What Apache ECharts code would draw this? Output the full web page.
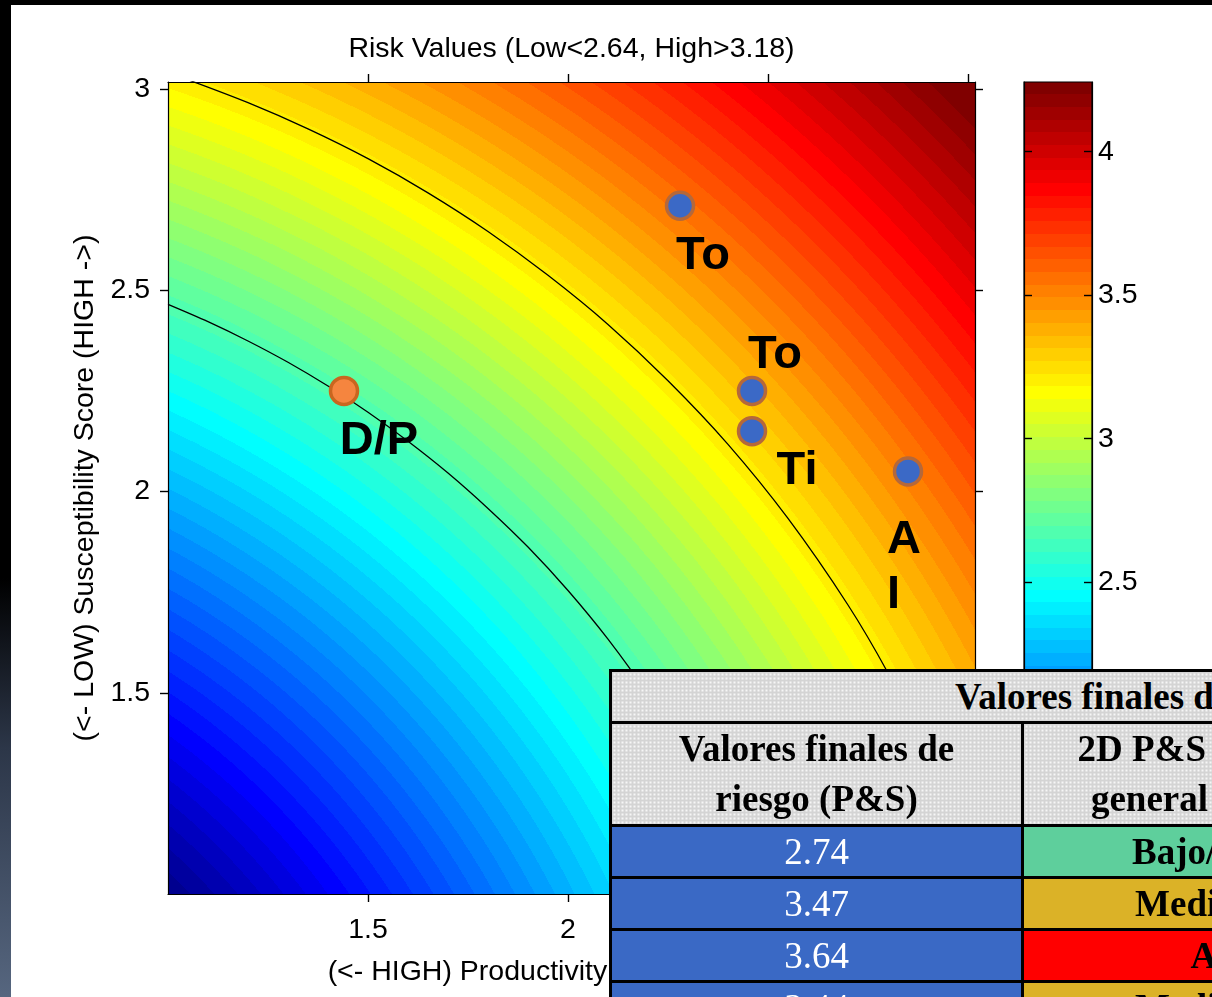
<!DOCTYPE html>
<html><head><meta charset="utf-8">
<script src="https://cdn.jsdelivr.net/npm/echarts@6/dist/echarts.min.js"></script>
<style>
html,body{margin:0;padding:0;width:1212px;height:997px;overflow:hidden;background:#fff;}
#chart{position:absolute;left:0;top:0;width:1212px;height:997px;}
#topbar{position:absolute;left:0;top:0;width:1212px;height:5px;background:#000;z-index:30}
#leftbar{position:absolute;left:0;top:0;width:11px;height:997px;background:linear-gradient(to bottom,#000 0%,#000 58%,#2c3648 75%,#56667f 100%);z-index:30}
#tbl{position:absolute;left:609px;top:669px;z-index:20;border-collapse:collapse;table-layout:fixed;width:1068px;font-family:"Liberation Serif","Times New Roman",serif;font-size:37px;}
#tbl td{border:3px solid #000;text-align:center;padding:0;overflow:hidden;white-space:nowrap;}
.hdr{background-color:#d4d4d4;background-image:radial-gradient(circle,#f6f6f6 0.9px,transparent 1.3px);background-size:4px 4px;font-weight:bold;color:#000;}
.val{background:#3a69c5;color:#fff;}
.lvl{font-weight:bold;color:#000;}
</style></head>
<body>
<div id="chart"></div>
<table id="tbl"></table>
<div id="topbar"></div>
<div id="leftbar"></div>
<script>
// ---------------- data ----------------
const xTickValues = [1.5, 2, 2.5, 3];
const yTickValues = [1.5, 2, 2.5, 3];
const colorbarTickValues = [2.5, 3, 3.5, 4];
const prodRange = [1, 3.0175];
const suscRange = [1, 3.0174];
const riskRange = [1.4142, 4.2426];
const titleText = 'Risk Values (Low<2.64, High>3.18)';
const xName = '(<- HIGH) Productivity Score (LOW ->)';
const yName = '(<- LOW) Susceptibility Score (HIGH ->)';

// contour "Low<2.64"
const lowContourP = [1.00, 1.10, 1.20, 1.30, 1.40, 1.50, 1.60, 1.70, 1.80, 1.90, 2.00, 2.10, 2.20, 2.30, 2.40, 2.47];
const lowContourS = [2.465, 2.422, 2.374, 2.321, 2.262, 2.197, 2.125, 2.046, 1.958, 1.862, 1.754, 1.633, 1.495, 1.336, 1.147, 0.99];
// contour "High>3.18"
const highContourP = [1.05, 1.20, 1.35, 1.50, 1.65, 1.80, 1.95, 2.10, 2.25, 2.40, 2.55, 2.70, 2.80, 2.90, 3.00, 3.03];
const highContourS = [3.023, 2.966, 2.901, 2.827, 2.742, 2.646, 2.537, 2.415, 2.275, 2.117, 1.933, 1.718, 1.549, 1.353, 1.114, 1.029];

// species points
const speciesLabels = ['To', 'To', 'Ti', 'A\nI', 'D/P'];
const productivity = [2.28, 2.46, 2.46, 2.85, 1.44];
const susceptibility = [2.71, 2.25, 2.15, 2.05, 2.25];

// table
const tableTitle = 'Valores finales de riesgo';
const tableHead1 = ['Valores finales de', 'riesgo (P&S)'];
const tableHead2 = ['2D P&S Categoría', 'general de riesgo'];
const tableValues = ['2.74', '3.47', '3.64', '3.44'];
const tableLevels = ['Bajo/Medio', 'Medio/Alto', 'Alto', 'Medio/Alto'];

// ---------------- styles ----------------
const markerFill = ['#3b69c6', '#3b69c6', '#3b69c6', '#3b69c6', '#f5853f'];
const markerBorder = ['#b5683a', '#b5683a', '#b5683a', '#b5683a', '#c9661f'];
const labelStyle = [
  {offset: [23, 50]},
  {offset: [23, -36]},
  {offset: [45, 40]},
  {offset: [-21, 96], align: 'left', lineHeight: 55},
  {offset: [35, 50]}
];
const levelColors = {'Bajo/Medio': '#5ecf9c', 'Medio/Alto': '#dbb227', 'Alto': '#ff0000'};

function fontAvailable(name) {
  const ctx = document.createElement('canvas').getContext('2d');
  const s = 'Risk Values (Low<2.64, High>3.18) 0123456789';
  ctx.font = '40px monospace'; const a = ctx.measureText(s).width;
  ctx.font = '40px "' + name + '", monospace'; const b = ctx.measureText(s).width;
  return Math.abs(a - b) > 0.5;
}
const narrow = fontAvailable('Liberation Sans Narrow');
const axisFont = narrow ? '"Liberation Sans Narrow"' : '"Liberation Sans", Arial, sans-serif';
const axisFontSize = narrow ? 34 : 28.5;

// MATLAB jet(64) colormap
function jet(k) { // k = 1..64
  const c = v => Math.round(255 * Math.max(0, Math.min(1, v)));
  const r = c(Math.min((k - 24) / 16, (72 - k) / 16));
  const g = c(Math.min((k - 8) / 16, (56 - k) / 16));
  const b = c(Math.min((k + 8) / 16, (40 - k) / 16));
  return 'rgb(' + r + ',' + g + ',' + b + ')';
}
const NB = 64;
const bandColors = [];
for (let k = 1; k <= NB; k++) bandColors.push(jet(k));

// colorbar gradient (top = max)
const cbStops = [];
for (let i = NB - 1; i >= 0; i--) {
  cbStops.push({offset: (NB - 1 - i) / NB, color: bandColors[i]});
  cbStops.push({offset: (NB - i) / NB, color: bandColors[i]});
}

// ---------------- table ----------------
(function buildTable() {
  const t = document.getElementById('tbl');
  const esc = s => s.replace(/&/g, '&amp;');
  let h = '<colgroup><col style="width:412px"><col style="width:404px"><col style="width:252px"></colgroup>';
  h += '<tr style="height:52px"><td colspan="3" class="hdr">' + tableTitle + '</td></tr>';
  h += '<tr style="height:103px"><td class="hdr" style="line-height:50px">' + tableHead1.map(esc).join('<br>') +
       '</td><td class="hdr" style="line-height:50px">' + tableHead2.map(esc).join('<br>') + '</td><td class="hdr"></td></tr>';
  for (let i = 0; i < tableValues.length; i++) {
    h += '<tr style="height:52px"><td class="val">' + tableValues[i] + '</td><td class="lvl" style="background:' +
         levelColors[tableLevels[i]] + '">' + tableLevels[i] + '</td><td style="background:#fff"></td></tr>';
  }
  t.innerHTML = h;
})();

// ---------------- chart ----------------
const chart = echarts.init(document.getElementById('chart'), null, {renderer: 'canvas'});
const txt = {color: '#000', fontFamily: axisFont, fontSize: axisFontSize};
const lineBlack = {show: true, onZero: false, lineStyle: {color: '#000', width: 1.2}};
function tick(vals, inside) { return {show: true, inside: inside, length: 8, lineStyle: {color: '#000', width: 1.4}, customValues: vals}; }

const pts = productivity.map((p, i) => ({
  value: [p, susceptibility[i]],
  name: speciesLabels[i],
  itemStyle: {color: markerFill[i], borderColor: markerBorder[i], borderWidth: 3.5, opacity: 1},
  label: Object.assign({}, labelStyle[i])
}));

const option = {
  animation: false,
  grid: [
    {left: 168, top: 82, width: 807, height: 812, show: true, borderWidth: 0, backgroundColor: '#fff', outerBoundsMode: 'none', containLabel: false},
    {left: 1024, top: 82, width: 68, height: 812, show: true, borderColor: '#000', borderWidth: 1.2,
     backgroundColor: {type: 'linear', x: 0, y: 0, x2: 0, y2: 1, colorStops: cbStops}, outerBoundsMode: 'none', containLabel: false}
  ],
  xAxis: [
    {gridIndex: 0, type: 'value', position: 'bottom', min: prodRange[0], max: prodRange[1],
     axisLine: lineBlack, axisTick: tick(xTickValues, false), splitLine: {show: false},
     axisLabel: Object.assign({customValues: xTickValues, margin: 22}, txt),
     name: xName, nameLocation: 'middle', nameGap: 64, nameTextStyle: txt},
    {gridIndex: 0, type: 'value', position: 'top', min: prodRange[0], max: prodRange[1],
     axisLine: lineBlack, axisTick: tick(xTickValues, false), splitLine: {show: false},
     axisLabel: {show: false},
     name: titleText, nameLocation: 'middle', nameGap: 18, nameTextStyle: txt},
    {gridIndex: 1, type: 'value', show: false, min: 0, max: 1}
  ],
  yAxis: [
    {gridIndex: 0, type: 'value', position: 'left', min: suscRange[0], max: suscRange[1],
     axisLine: lineBlack, axisTick: tick(yTickValues, false), splitLine: {show: false},
     axisLabel: Object.assign({customValues: yTickValues, margin: 18}, txt),
     name: yName, nameLocation: 'middle', nameGap: 57, nameTextStyle: txt},
    {gridIndex: 0, type: 'value', position: 'right', min: suscRange[0], max: suscRange[1],
     axisLine: lineBlack, axisTick: tick(yTickValues, false), splitLine: {show: false},
     axisLabel: {show: false}},
    {gridIndex: 1, type: 'value', position: 'right', min: riskRange[0], max: riskRange[1],
     axisLine: {show: true, onZero: false, lineStyle: {color: '#000', width: 1.2}}, axisTick: tick(colorbarTickValues, true), splitLine: {show: false},
     axisLabel: Object.assign({customValues: colorbarTickValues, margin: 6}, txt)},
    {gridIndex: 1, type: 'value', position: 'left', min: riskRange[0], max: riskRange[1],
     axisLine: {show: true, onZero: false, lineStyle: {color: '#000', width: 1.2}}, axisTick: tick(colorbarTickValues, true), splitLine: {show: false},
     axisLabel: {show: false}}
  ],
  series: [
    {type: 'line', name: 'Low<2.64', xAxisIndex: 0, yAxisIndex: 0, data: lowContourP.map((p, i) => [p, lowContourS[i]]),
     showSymbol: false, smooth: 0.3, silent: true, clip: true, lineStyle: {color: '#000', width: 1.3}, z: 3},
    {type: 'line', name: 'High>3.18', xAxisIndex: 0, yAxisIndex: 0, data: highContourP.map((p, i) => [p, highContourS[i]]),
     showSymbol: false, smooth: 0.3, silent: true, clip: true, lineStyle: {color: '#000', width: 1.3}, z: 3},
    {type: 'scatter', xAxisIndex: 0, yAxisIndex: 0, data: pts, symbol: 'circle', symbolSize: 27, z: 5,
     itemStyle: {opacity: 1},
     label: {show: true, position: 'inside', formatter: '{b}', color: '#000', opacity: 1, fontSize: 47, fontWeight: 'bold',
             fontFamily: '"Liberation Sans", Arial, sans-serif'}}
  ]
};
chart.setOption(option);

// risk surface background: radial jet bands centred on the (0,0) origin of the P/S axes
const o = chart.convertToPixel({gridIndex: 0}, [0, 0]);
const u1 = chart.convertToPixel({gridIndex: 0}, [1, 0]);
const unit = u1[0] - o[0];
const radStops = [{offset: 0, color: bandColors[0]}];
const span = riskRange[1] - riskRange[0];
for (let i = 0; i < NB; i++) {
  radStops.push({offset: (riskRange[0] + span * i / NB) / riskRange[1], color: bandColors[i]});
  radStops.push({offset: (riskRange[0] + span * (i + 1) / NB) / riskRange[1], color: bandColors[i]});
}
chart.setOption({grid: [{backgroundColor: {type: 'radial', x: o[0], y: o[1], r: riskRange[1] * unit, global: true, colorStops: radStops}}, {}]});
</script>
</body></html>
